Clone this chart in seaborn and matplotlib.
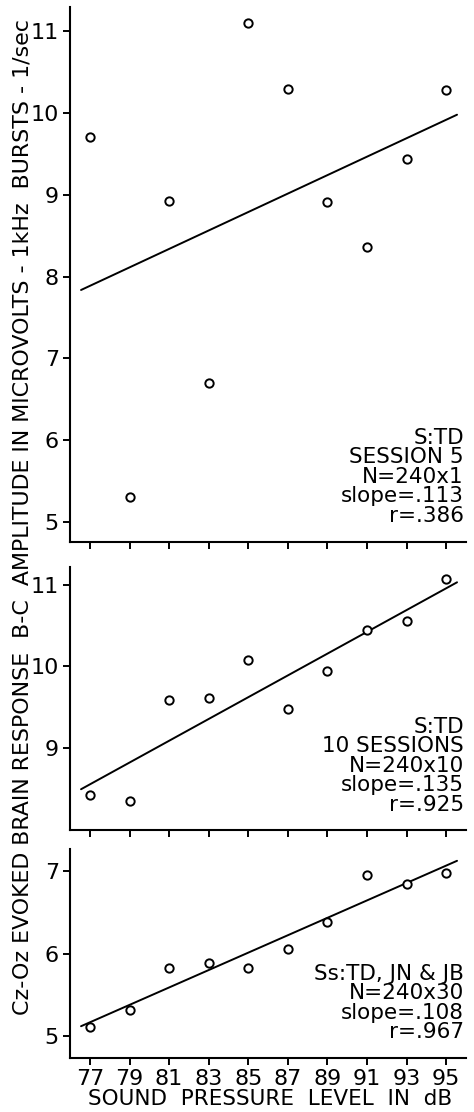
import numpy as np
import pandas as pd
import matplotlib
matplotlib.use("Agg")
import matplotlib.pyplot as plt
import seaborn as sns

# ---- data ----
spl_db = [77, 79, 81, 83, 85, 87, 89, 91, 93, 95]
session5_uv = [9.70, 5.31, 8.92, 6.70, 11.09, 10.29, 8.91, 8.36, 9.44, 10.28]
ten_sessions_uv = [8.43, 8.35, 9.59, 9.61, 10.08, 9.48, 9.95, 10.45, 10.56, 11.07]
three_subjects_uv = [5.11, 5.32, 5.82, 5.89, 5.82, 6.06, 6.38, 6.95, 6.84, 6.97]

panel_texts = [
    "S:TD\nSESSION 5\nN=240x1\nslope=.113\nr=.386",
    "S:TD\n10 SESSIONS\nN=240x10\nslope=.135\nr=.925",
    "Ss:TD, JN & JB\nN=240x30\nslope=.108\nr=.967",
]
y_ticks = [[5, 6, 7, 8, 9, 10, 11], [9, 10, 11], [5, 6, 7]]
y_lims = [(4.76, 11.29), (8.0, 11.22), (4.74, 7.26)]
line_extent = [76.55, 95.55]

x_label = "SOUND  PRESSURE  LEVEL  IN  dB"
y_label = "Cz-Oz EVOKED BRAIN RESPONSE  B-C  AMPLITUDE IN MICROVOLTS - 1kHz  BURSTS - 1/sec"

sns.set_theme(style="ticks")
plt.rcParams['font.family'] = ['DejaVu Sans']
plt.rcParams['text.color'] = 'black'

fig = plt.figure(figsize=(4.74, 11.12), dpi=100)
left, right = 0.148, 0.983
boxes = [(0.5126, 0.9937), (0.2536, 0.4904), (0.0488, 0.2362)]
series = [session5_uv, ten_sessions_uv, three_subjects_uv]
text_pos = [0.030, 0.058, 0.075]

for i, (b, t) in enumerate(boxes):
    ax = fig.add_axes([left, b, right - left, t - b])
    df = pd.DataFrame({"x": spl_db, "y": series[i]})
    slope, icpt = np.polyfit(df["x"], df["y"], 1)
    fit = pd.DataFrame({"x": line_extent, "y": [icpt + slope * v for v in line_extent]})
    sns.lineplot(data=fit, x="x", y="y", ax=ax, color="black", linewidth=1.4)
    sns.scatterplot(data=df, x="x", y="y", ax=ax, marker="o", s=36,
                    facecolor="white", edgecolor="black", linewidth=1.4, zorder=3)
    ax.set_xlim(76.0, 96.0)
    ax.set_ylim(*y_lims[i])
    ax.set_xticks(spl_db)
    ax.set_yticks(y_ticks[i])
    ax.set_xlabel("")
    ax.set_ylabel("")
    for s in ["top", "right"]:
        ax.spines[s].set_visible(False)
    for s in ["left", "bottom"]:
        ax.spines[s].set_linewidth(1.5)
        ax.spines[s].set_color("black")
    ax.tick_params(axis="both", direction="out", length=5, width=1.4,
                   labelsize=16, colors="black", pad=3)
    if i < 2:
        ax.tick_params(axis="x", labelbottom=False)
    ax.text(0.995, text_pos[i], panel_texts[i], transform=ax.transAxes,
            ha="right", va="bottom", fontsize=15.5, linespacing=0.97, color="black")
    ax.patch.set_alpha(0)

fig.text((left + right) / 2 + 0.005, 0.003, x_label, ha="center", va="bottom",
         fontsize=15.5, color="black")
fig.text(0.048, 0.535, y_label, rotation=90, ha="center", va="center",
         fontsize=15.9, color="black")

fig.savefig("out.png", dpi=100)
